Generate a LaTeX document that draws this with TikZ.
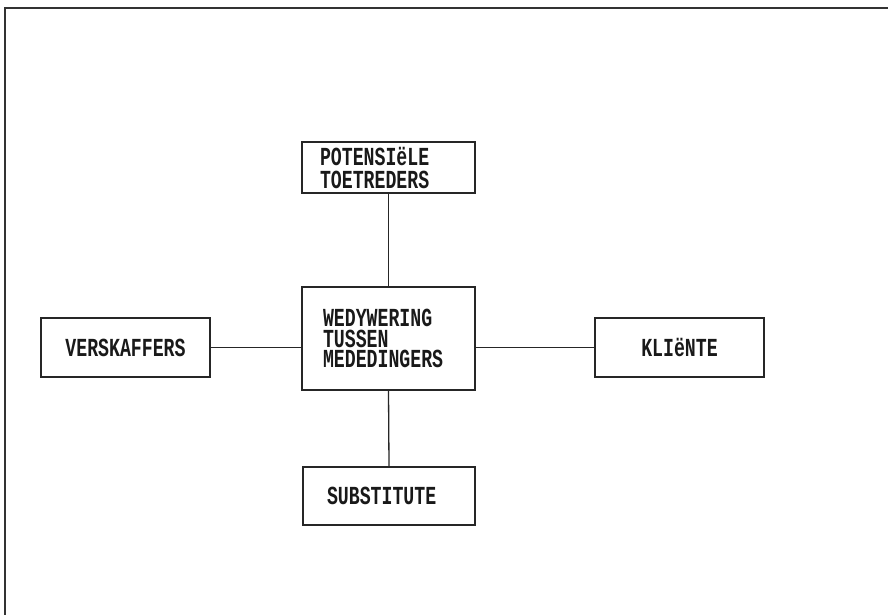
\documentclass[tikz,border=0pt]{standalone}
\usepackage{fontspec}
\newfontfamily\boxfont{Liberation Mono}[FakeStretch=0.7]
\begin{document}
\begin{tikzpicture}[x=1pt,y=-1pt,
  box/.style={draw=black!85, line width=1.5pt, inner ysep=0pt,
    font=\boxfont\bfseries\fontsize{26}{20.5}\selectfont, text=black!90},
  link/.style={draw=black!85, line width=1.3pt}]
  \useasboundingbox (0,0) rectangle (888,615);
  \fill[white] (0,0) rectangle (888,615);
  % outer frame (left and top edges)
  \draw[line width=2pt, black!80] (5,615) -- (5,8) -- (888,8);

  % boxes
  \node[box, minimum width=173pt, minimum height=51pt, inner xsep=18pt,
        text width=137pt, align=left] (top) at (388.5,167.5)
        {POTENSIëLE\\[2.5pt]TOETREDERS};
  \node[box, minimum width=173pt, minimum height=103pt, inner xsep=21pt,
        text width=131pt, align=left] (mid) at (388.5,338.5)
        {WEDYWERING\\TUSSEN\\MEDEDINGERS};
  \node[box, minimum width=172pt, minimum height=58pt, inner xsep=24pt,
        text width=124pt, align=left] (bot) at (389,496)
        {SUBSTITUTE};
  \node[box, minimum width=169pt, minimum height=59pt, align=center]
        (left) at (125.5,347.5) {VERSKAFFERS};
  \node[box, minimum width=169pt, minimum height=59pt, align=center]
        (right) at (679.5,347.5) {KLIëNTE};

  % connectors
  \draw[link] (top.south) -- (mid.north);
  \draw[link] (mid.south) -- (bot.north);
  \draw[link] (left.east) -- (left.east -| mid.west);
  \draw[link] (right.west) -- (right.west -| mid.east);
\end{tikzpicture}
\end{document}
